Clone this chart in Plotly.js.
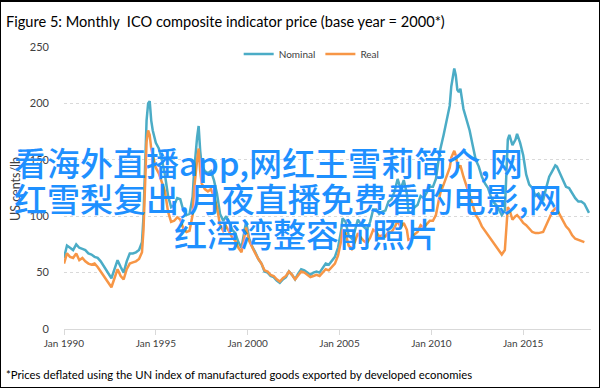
<!DOCTYPE html>
<html>
<head>
<meta charset="utf-8">
<script src="https://cdn.plot.ly/plotly-3.0.1.min.js"></script>
<style>
html,body{margin:0;padding:0;background:#fff;}
#frame{position:absolute;left:0;top:0;width:598px;height:385px;border:1px solid #000;border-top-width:2px;}
#chart{position:absolute;left:0;top:0;width:604px;height:390px;}
</style>
</head>
<body>
<div id="frame"></div>
<div id="chart"></div>
<script>
// ---- data ----
const dates = [
"1990-01","1990-03","1990-05","1990-07","1990-09","1990-11",
"1991-01","1991-03","1991-05","1991-07","1991-09","1991-11",
"1992-01","1992-03","1992-05","1992-07","1992-08","1992-10","1992-12",
"1993-02","1993-04","1993-06","1993-08","1993-10","1993-12",
"1994-02","1994-04","1994-05","1994-06","1994-07","1994-08","1994-09","1994-10","1994-11",
"1995-01","1995-03","1995-05","1995-07","1995-09","1995-11",
"1996-01","1996-03","1996-05","1996-07","1996-09","1996-11",
"1997-01","1997-02","1997-04","1997-05","1997-06","1997-07","1997-09","1997-11",
"1998-01","1998-03","1998-05","1998-07","1998-09","1998-11",
"1999-01","1999-03","1999-05","1999-07","1999-09","1999-11","1999-12",
"2000-02","2000-04","2000-06","2000-08","2000-10","2000-12",
"2001-02","2001-04","2001-06","2001-08","2001-10","2001-12",
"2002-02","2002-04","2002-06","2002-08","2002-10","2002-12",
"2003-02","2003-04","2003-06","2003-08","2003-10","2003-12",
"2004-02","2004-04","2004-06","2004-08","2004-10","2004-12",
"2005-02","2005-03","2005-05","2005-07","2005-09","2005-11",
"2006-01","2006-03","2006-05","2006-07","2006-09","2006-11",
"2007-01","2007-03","2007-05","2007-07","2007-09","2007-11",
"2008-01","2008-03","2008-05","2008-07","2008-09","2008-10","2008-12",
"2009-02","2009-04","2009-06","2009-08","2009-10","2009-12",
"2010-02","2010-04","2010-06","2010-07","2010-09","2010-11",
"2011-01","2011-02","2011-04","2011-05","2011-06","2011-07","2011-08","2011-10","2011-12",
"2012-02","2012-04","2012-06","2012-08","2012-10","2012-12",
"2013-02","2013-04","2013-06","2013-08","2013-10","2013-11",
"2014-01","2014-03","2014-04","2014-06","2014-08","2014-09","2014-11",
"2015-01","2015-03","2015-05","2015-07","2015-09","2015-11",
"2016-02","2016-04","2016-06","2016-08","2016-10","2016-11",
"2017-01","2017-03","2017-05","2017-07","2017-09","2017-11",
"2018-01","2018-03","2018-05","2018-07","2018-08"
];
const nominal = [
63,74,72,70,75,72,
71,70,67,66,64,63,
60,56,52,47,45,53,61,
55,50,60,67,67,68,
70,77,100,150,185,200,202,185,176,
165,160,150,137,118,108,
110,116,115,105,101,102,
117,140,170,180,158,145,140,138,
140,132,120,102,96,100,
94,88,85,77,72,88,95,
80,73,68,62,58,51,
50,47,46,43,41,44,
46,51,48,44,49,53,
52,50,48,50,51,50,
54,58,57,61,64,72,
87,98,95,83,80,87,
97,93,90,88,95,106,
106,102,104,105,113,115,
122,133,124,132,120,104,103,
108,110,118,116,121,126,
126,133,152,160,172,184,
198,215,231,225,212,210,213,195,186,
176,163,150,144,135,129,
125,117,112,109,103,101,
105,168,172,163,168,173,165,
154,137,128,125,118,120,
114,125,135,140,145,144,
138,133,126,125,120,116,
113,113,111,106,103
];
const real = [
58,67,64,63,67,61,
63,60,58,57,58,55,
51,47,43,39,37,45,53,
47,44,53,58,59,60,
62,68,88,132,166,176,172,160,155,
143,138,130,122,104,95,
96,99,97,89,86,87,
101,124,150,160,140,129,124,122,
124,118,108,92,87,91,
86,81,78,72,68,83,90,
78,72,67,62,58,52,
51,48,47,44,42,45,
47,51,48,44,48,51,
50,48,46,47,48,47,
50,53,52,55,58,65,
78,88,85,74,71,77,
85,81,78,76,81,88,
86,82,83,82,86,86,
90,96,90,94,88,79,80,
84,86,92,90,93,96,
96,101,115,121,128,136,
143,152,158,154,146,143,145,135,127,
119,110,101,97,91,87,
84,79,75,72,68,66,
70,108,106,97,100,101,98,
94,92,89,86,85,85,
86,92,97,104,107,106,
101,96,91,88,83,80,
79,78,77,null,null
];
const tickVals = ["1990-01-01","1995-01-01","2000-01-01","2005-01-01","2010-01-01","2015-01-01"];
const tickText = ["Jan 1990","Jan 1995","Jan 2000","Jan 2005","Jan 2010","Jan 2015"];
const yTicks = [0,50,100,150,200,250];

const overlayLines = ["看海外直播app,网红王雪莉简介,网","红雪梨复出,月夜直播免费看的电影,网","红湾湾整容前照片"];

// ---- geometry helpers (pixel -> paper) ----
const W=604,H=390,ML=64,MR=13,MT=47,MB=61;
const PW=W-ML-MR, PH=H-MT-MB;
const px=x=>(x-ML)/PW, py=y=>(H-MB-y)/PH;

const baseFont = "Lato, 'Liberation Sans', sans-serif";
const cjkFont = {family:"'Noto Sans CJK SC', sans-serif", size:33, color:"#1E90FF", weight:500};

const traces = [
  {x:dates, y:nominal, type:"scatter", mode:"lines", name:"Nominal",
   line:{color:"#4BACC6", width:2.5}},
  {x:dates, y:real, type:"scatter", mode:"lines", name:"Real",
   line:{color:"#F79646", width:2.5}}
];

const annotations = [
  {text:"Figure 5: Monthly  ICO composite indicator price (base year = 2000*)", xref:"paper", yref:"paper",
   x:px(4), y:py(22), xanchor:"left", yanchor:"middle", showarrow:false,
   font:{family:baseFont, size:14.6, color:"#000"}},
  {text:"*Prices deflated using the UN index of manufactured goods exported by developed economies", xref:"paper", yref:"paper",
   x:px(4), y:py(374), xanchor:"left", yanchor:"middle", showarrow:false,
   font:{family:baseFont, size:11.3, color:"#000"}},
  {text:"US cents/lb", xref:"paper", yref:"paper", x:px(15), y:py(189), textangle:-90,
   xanchor:"center", yanchor:"middle", showarrow:false,
   font:{family:baseFont, size:12.5, color:"#404040"}},
  {text:overlayLines[0], xref:"paper", yref:"paper", x:px(12), y:py(162), xanchor:"left", yanchor:"middle", showarrow:false,
   font:cjkFont},
  {text:overlayLines[1], xref:"paper", yref:"paper", x:px(12), y:py(198), xanchor:"left", yanchor:"middle", showarrow:false,
   font:cjkFont},
  {text:overlayLines[2], xref:"paper", yref:"paper", x:px(172), y:py(233), xanchor:"left", yanchor:"middle", showarrow:false,
   font:cjkFont}
];

const layout = {
  width:W, height:H,
  margin:{l:ML, r:MR, t:MT, b:MB, pad:0},
  paper_bgcolor:"rgba(0,0,0,0)", plot_bgcolor:"rgba(0,0,0,0)",
  showlegend:true,
  legend:{orientation:"h", x:0.47, xanchor:"center", y:py(54), yanchor:"middle",
          font:{family:baseFont, size:10, color:"#404040"}, bgcolor:"rgba(0,0,0,0)",
          itemwidth:30, tracegroupgap:0},
  xaxis:{type:"date", range:["1990-01-01","2018-09-10"], tickmode:"array", tickvals:tickVals, ticktext:tickText,
         showgrid:false, zeroline:false, showline:true, linecolor:"#D9D9D9", linewidth:1,
         ticks:"outside", ticklen:5, tickcolor:"#D9D9D9",
         tickfont:{family:baseFont, size:10, color:"#404040"}},
  yaxis:{range:[0,250], tickmode:"array", tickvals:yTicks, showgrid:true, gridcolor:"#D9D9D9", griddash:"dot",
         gridwidth:1, zeroline:false, showline:false, ticks:"", ticklabelstandoff:14,
         tickfont:{family:baseFont, size:11, color:"#404040"}},
  annotations:annotations
};

Plotly.newPlot("chart", traces, layout, {staticPlot:true, displayModeBar:false});
</script>
</body>
</html>
